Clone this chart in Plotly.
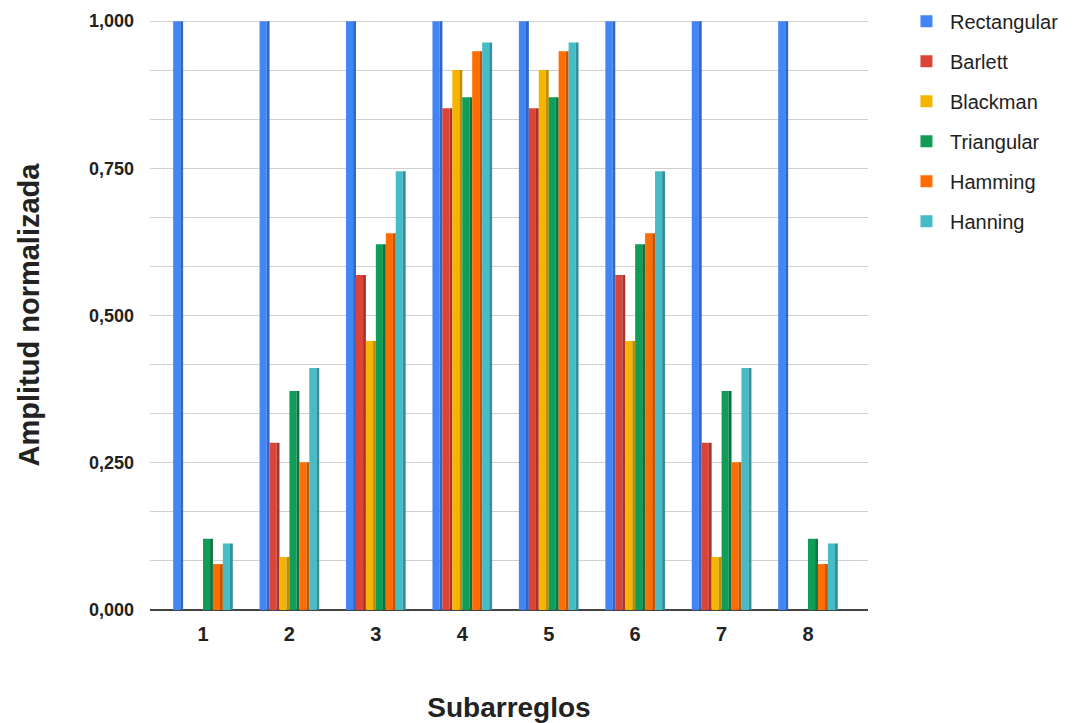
import plotly.graph_objects as go

# Subarray index (1..8) and normalized amplitude per window type
subarreglos = [1, 2, 3, 4, 5, 6, 7, 8]
rectangular = [1.0, 1.0, 1.0, 1.0, 1.0, 1.0, 1.0, 1.0]
barlett     = [0.0, 0.284, 0.569, 0.852, 0.852, 0.569, 0.284, 0.0]
blackman    = [0.0, 0.090, 0.457, 0.917, 0.917, 0.457, 0.090, 0.0]
triangular  = [0.121, 0.372, 0.621, 0.871, 0.871, 0.621, 0.372, 0.121]
hamming     = [0.078, 0.251, 0.640, 0.949, 0.949, 0.640, 0.251, 0.078]
hanning     = [0.113, 0.411, 0.745, 0.964, 0.964, 0.745, 0.411, 0.113]

# (name, values, face colour, side colour)
series = [
    ("Rectangular", rectangular, "#4285F4", "#2F66C8"),
    ("Barlett", barlett, "#DB4437", "#A8332A"),
    ("Blackman", blackman, "#F4B400", "#C08C00"),
    ("Triangular", triangular, "#0F9D58", "#0B7442"),
    ("Hamming", hamming, "#FF6D01", "#C85400"),
    ("Hanning", hanning, "#46BDC6", "#33909A"),
]

y_ticks = [0, 0.25, 0.5, 0.75, 1.0]

# Bar slot geometry in category units: each series gets one slot,
# drawn as a front face plus a narrow darker side face for a 3D look.
group_width = 0.69
slot = group_width / len(series)
face_w = 0.082
side_w = slot - face_w

fig = go.Figure()
for i, (name, vals, color, side) in enumerate(series):
    start = -group_width / 2 + i * slot
    fig.add_trace(go.Bar(
        x=subarreglos, y=vals, name=name, legendgroup=name,
        offset=start, width=face_w,
        marker=dict(color=color, line=dict(width=0)),
    ))
    fig.add_trace(go.Bar(
        x=subarreglos, y=vals, name=name, legendgroup=name, showlegend=False,
        offset=start + face_w, width=side_w,
        marker=dict(color=side, line=dict(width=0)),
        hoverinfo="skip",
    ))

font_family = "Arial, Liberation Sans, sans-serif"

fig.update_layout(
    width=1081, height=723,
    barmode="overlay",
    separators=",.",
    paper_bgcolor="white", plot_bgcolor="white",
    margin=dict(l=150, r=213, t=20, b=113, autoexpand=False),
    font=dict(family=font_family, color="#222222"),
    showlegend=True,
    legend=dict(
        x=1.0487, y=1.031, xanchor="left", yanchor="top",
        font=dict(size=20, color="#222222"),
        tracegroupgap=11, itemwidth=37, itemclick=False,
    ),
    xaxis=dict(
        range=[0.387, 8.694],
        tickmode="array", tickvals=subarreglos,
        ticktext=[str(v) for v in subarreglos],
        tickfont=dict(size=20, color="#222222", family=font_family, weight="bold"),
        showgrid=False, zeroline=False,
        showline=False, ticks="", ticklabelstandoff=10,
        title=dict(text="<b>Subarreglos</b>", font=dict(size=28, color="#222222"), standoff=53),
    ),
    yaxis=dict(
        range=[0, 1.002],
        tickmode="array", tickvals=y_ticks,
        tickformat=".3f",
        tickfont=dict(size=18, color="#222222", family=font_family, weight="bold"),
        showgrid=True, gridcolor="#d0d0d0", gridwidth=1,
        minor=dict(tickmode="linear", tick0=0, dtick=1/12, showgrid=True,
                   gridcolor="#d0d0d0", gridwidth=1),
        zeroline=True, zerolinecolor="#444444", zerolinewidth=1.5,
        ticks="", ticklabelstandoff=15,
        title=dict(text="<b>Amplitud normalizada</b>", font=dict(size=29, color="#222222"), standoff=40),
    ),
)

fig.write_html("out.html")
